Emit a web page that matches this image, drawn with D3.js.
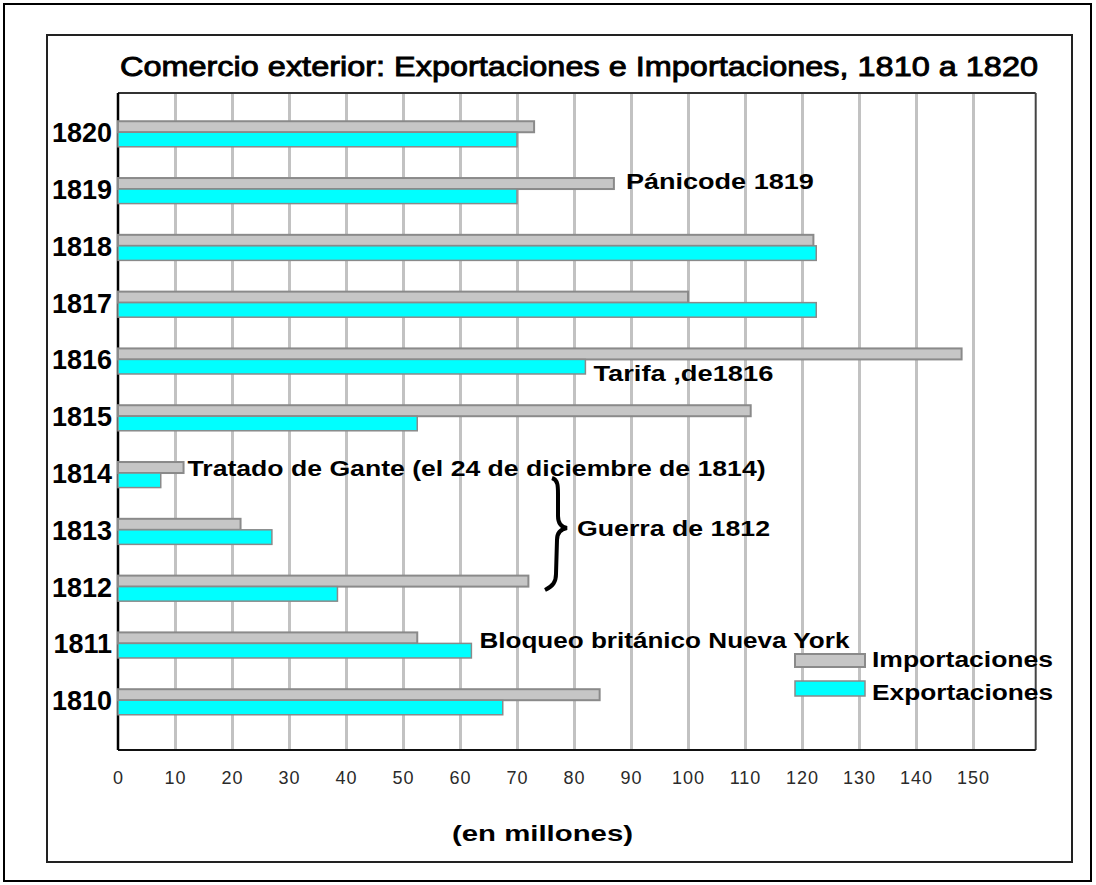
<!DOCTYPE html>
<html>
<head>
<meta charset="utf-8">
<script src="https://cdn.jsdelivr.net/npm/d3@7"></script>
<style>
    body { margin: 0; background: #fff; }
    svg { display: block; }
    text { font-family: "Liberation Sans", Arial, sans-serif; }
</style>
</head>
<body>
<svg id="chart" width="1096" height="885"></svg>
<script>
// values (millions of dollars)
var years = [1820, 1819, 1818, 1817, 1816, 1815, 1814, 1813, 1812, 1811, 1810];
var importaciones = [73, 87, 122, 100, 148, 111, 11.5, 21.5, 72, 52.5, 84.5];
var exportaciones = [70, 70, 122.5, 122.5, 82, 52.5, 7.5, 27, 38.5, 62, 67.5];
var xTicks = [0, 10, 20, 30, 40, 50, 60, 70, 80, 90, 100, 110, 120, 130, 140, 150];
var seriesNames = ["Importaciones", "Exportaciones"];
var titleText = "Comercio exterior: Exportaciones e Importaciones, 1810 a 1820";
var axisTitle = "(en millones)";

var svg = d3.select("#chart");
var plotTop = 93, plotBottom = 750, plotLeft = 118;

var x = d3.scaleLinear().domain([0, 160]).range([plotLeft, 1030]);
var y = d3.scaleBand().domain(years).range([90, 746]).paddingInner(0.55).paddingOuter(0.55);
var grayH = 11;

// outer frames
svg.append("rect").attr("x", 4).attr("y", 4).attr("width", 1087).attr("height", 877)
    .attr("fill", "none").attr("stroke", "#000").attr("stroke-width", 2);
svg.append("rect").attr("x", 47).attr("y", 35).attr("width", 1025).attr("height", 827)
    .attr("fill", "none").attr("stroke", "#222").attr("stroke-width", 2);

// title
svg.append("text")
    .attr("x", 120).attr("y", 76)
    .attr("textLength", 918).attr("lengthAdjust", "spacingAndGlyphs")
    .attr("font-family", "'Liberation Sans Narrow', 'Arial Narrow', 'Liberation Sans', sans-serif")
    .attr("font-size", 28).attr("fill", "#000").attr("stroke", "#000").attr("stroke-width", 0.9)
    .text(titleText);

// gridlines
var grid = svg.append("g").attr("transform", "translate(0," + plotBottom + ")")
    .call(d3.axisBottom(x).tickValues(xTicks.slice(1)).tickSize(-(plotBottom - plotTop)).tickFormat(""));
grid.select(".domain").remove();
grid.selectAll("line").attr("stroke", "#c2c2c2").attr("stroke-width", 3);

// plot frame
svg.append("line").attr("x1", plotLeft).attr("x2", x(161)).attr("y1", plotTop).attr("y2", plotTop)
    .attr("stroke", "#333").attr("stroke-width", 2);
svg.append("line").attr("x1", x(161)).attr("x2", x(161)).attr("y1", plotTop).attr("y2", plotBottom)
    .attr("stroke", "#444").attr("stroke-width", 2);
svg.append("line").attr("x1", plotLeft).attr("x2", x(161)).attr("y1", plotBottom).attr("y2", plotBottom)
    .attr("stroke", "#111").attr("stroke-width", 2);
svg.append("line").attr("x1", plotLeft).attr("x2", plotLeft).attr("y1", plotTop).attr("y2", plotBottom)
    .attr("stroke", "#000").attr("stroke-width", 2.5);

// bars
var bars = svg.append("g");
years.forEach(function(yr, i) {
    var b = y(yr);
    bars.append("rect")
        .attr("x", x(0)).attr("y", b)
        .attr("width", x(importaciones[i]) - x(0)).attr("height", grayH)
        .attr("fill", "#c6c6c6").attr("stroke", "#8a8a8a").attr("stroke-width", 2);
    bars.append("rect")
        .attr("x", x(0)).attr("y", b + grayH)
        .attr("width", x(exportaciones[i]) - x(0)).attr("height", y.bandwidth() - grayH)
        .attr("fill", "#00ffff").attr("stroke", "#8a8a8a").attr("stroke-width", 1.5);
});

// year labels
svg.append("g").selectAll("text").data(years).enter().append("text")
    .attr("x", 112)
    .attr("y", function(d) { return y(d) + grayH + 1; })
    .attr("text-anchor", "end").attr("dominant-baseline", "central")
    .attr("font-size", 27).attr("font-weight", "bold").attr("fill", "#000")
    .text(function(d) { return d; });

// x axis labels
var xa = svg.append("g").attr("transform", "translate(0," + plotBottom + ")")
    .call(d3.axisBottom(x).tickValues(xTicks).tickSize(0).tickPadding(21));
xa.select(".domain").remove();
xa.selectAll("text")
    .style("font-size", "18px").style("letter-spacing", "1px")
    .style("font-family", "'Liberation Sans', Arial, sans-serif")
    .attr("fill", "#2a2a2a");

svg.append("text")
    .attr("x", 452).attr("y", 841)
    .attr("textLength", 181).attr("lengthAdjust", "spacingAndGlyphs")
    .attr("font-size", 22).attr("font-weight", "bold").text(axisTitle);

// annotations
function note(txt, xv, yv, len) {
    svg.append("text")
        .attr("x", xv).attr("y", yv)
        .attr("dominant-baseline", "central")
        .attr("textLength", len).attr("lengthAdjust", "spacingAndGlyphs")
        .attr("font-size", 22).attr("font-weight", "bold").attr("fill", "#000")
        .text(txt);
}
note("Pánicode 1819", x(87) + 12, y(1819) + 3, 188);
note("Tarifa ,de1816", x(82) + 8, y(1816) + 25, 180);
note("Tratado de Gante (el 24 de diciembre de 1814)", x(11.5) + 4, y(1814) + 6, 578);
note("Guerra de 1812", 577, 528, 193);
note("Bloqueo británico Nueva York", x(62) + 8, y(1811) + 8, 370);

// brace for the war
svg.append("path")
    .attr("d", "M552,478 C558,480 558,486 558,494 L558,516 C558,523 561,527 567,528 C561,529 557,533 557,540 L556,574 C556,582 553,586 545,590")
    .attr("fill", "none").attr("stroke", "#000").attr("stroke-width", 4);

// legend
var leg = svg.append("g");
leg.append("rect").attr("x", 795).attr("y", 654).attr("width", 70).attr("height", 13)
    .attr("fill", "#c6c6c6").attr("stroke", "#8a8a8a").attr("stroke-width", 2);
leg.append("rect").attr("x", 795).attr("y", 681).attr("width", 70).attr("height", 15)
    .attr("fill", "#00ffff").attr("stroke", "#8a8a8a").attr("stroke-width", 1.5);
note(seriesNames[0], 872, 659, 181);
note(seriesNames[1], 872, 692, 181);
</script>
</body>
</html>
